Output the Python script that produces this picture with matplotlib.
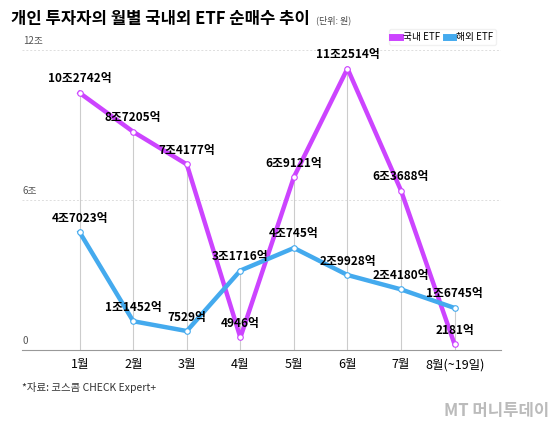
import matplotlib
matplotlib.use("Agg")
import matplotlib.pyplot as plt

plt.rcParams['font.family'] = ['Noto Sans CJK KR', 'DejaVu Sans']

months = ["1월", "2월", "3월", "4월", "5월", "6월", "7월", "8월(~19일)"]
domestic = [102742, 87205, 74177, 4946, 69121, 112514, 63688, 2181]  # 억원
overseas = [47023, 11452, 7529, 31716, 40745, 29928, 24180, 16745]   # 억원

def fmt(v):
    return f"{v//10000}조{v%10000}억" if v >= 10000 else f"{v}억"

fig = plt.figure(figsize=(5.6, 4.33), dpi=100)
ax = fig.add_axes([0.039, 0.192, 0.856, 0.693])
x = list(range(len(months)))
d = [v / 10000 for v in domestic]
o = [v / 10000 for v in overseas]

for i in x:
    ax.plot([i, i], [0, max(d[i], o[i])], color='#cccccc', lw=0.8, zorder=1)
for y in (6, 12):
    ax.axhline(y, color='#dddddd', lw=0.7, ls=(0, (2, 2)), zorder=0)

pc, bc = '#cc44ff', '#44aaee'
ax.plot(x, d, color=pc, lw=3.2, marker='o', ms=4, mfc='white', mec=pc, mew=0.8, zorder=3)
ax.plot(x, o, color=bc, lw=3.2, marker='o', ms=4, mfc='white', mec=bc, mew=0.8, zorder=3)
ax.plot([], [], color=pc, lw=5, label='국내 ETF')
ax.plot([], [], color=bc, lw=5, label='해외 ETF')

for i in x:
    ax.text(i, d[i] + 0.3, fmt(domestic[i]), ha='center', va='bottom', fontsize=8.5,
            fontweight='bold', zorder=4)
    ax.text(i, o[i] + 0.3, fmt(overseas[i]), ha='center', va='bottom', fontsize=8.5,
            fontweight='bold', zorder=4)

ax.set_xlim(-1.08, 7.87)
ax.set_ylim(0, 12)
ax.set_xticks(x)
ax.set_xticklabels(months, fontsize=9)
ax.set_yticks([])
for s in ('top', 'right', 'left'):
    ax.spines[s].set_visible(False)
ax.spines['bottom'].set_color('#999999')
ax.tick_params(axis='x', length=0, pad=6)
for y, t in ((12, '12조'), (6, '6조'), (0, '0')):
    ax.text(-1.06, y + 0.15, t, fontsize=7, color='#555555', va='bottom')

leg = ax.legend(loc='lower right', bbox_to_anchor=(1.0, 1.0), ncol=2, fontsize=7, frameon=True,
                handlelength=0.8, handletextpad=0.3, columnspacing=0.6, borderpad=0.3)
leg.get_frame().set_edgecolor('#eeeeee')

fig.text(0.02, 0.955, "개인 투자자의 월별 국내외 ETF 순매수 추이", fontsize=12, fontweight='bold', va='center')
fig.text(0.565, 0.952, "(단위: 원)", fontsize=6.5, color='#444444', va='center')
fig.text(0.04, 0.105, "*자료: 코스콤 CHECK Expert+", fontsize=7.5, color='#333333', va='center')
fig.text(0.98, 0.05, "MT 머니투데이", fontsize=12, color='#bbbbbb', ha='right', va='center', fontweight='bold')

fig.savefig("out.png", dpi=100, facecolor='white')
